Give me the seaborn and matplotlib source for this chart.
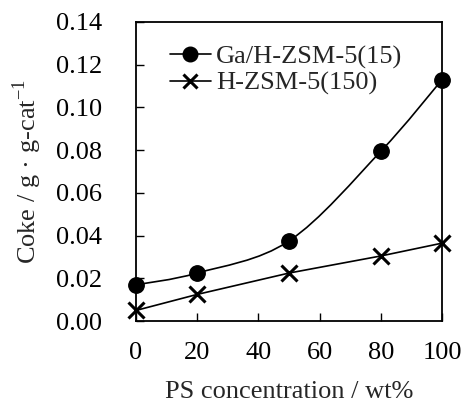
import numpy as np
import matplotlib
matplotlib.use("Agg")
import matplotlib.pyplot as plt
from matplotlib.path import Path
from matplotlib.patches import PathPatch
from matplotlib.lines import Line2D
import seaborn as sns

ps_conc = [0, 20, 50, 80, 100]
coke_ga = [0.017, 0.0225, 0.0375, 0.0795, 0.113]
coke_h = [0.005, 0.0125, 0.0225, 0.0305, 0.0365]
label_ga = "Ga/H-ZSM-5(15)"
label_h = "H-ZSM-5(150)"

sns.set_style("ticks")
plt.rcParams["font.family"] = ["Liberation Serif", "DejaVu Serif"]
plt.rcParams["mathtext.fontset"] = "custom"
plt.rcParams["mathtext.rm"] = "Liberation Serif"
plt.rcParams["font.size"] = 19

fig = plt.figure(figsize=(4.62, 4.05), dpi=100)
ax = fig.add_axes([0.294, 0.207, 0.663, 0.739])

# smoothed curve for the Ga series (bezier through the points, like a spreadsheet smoothed line)
x = np.array(ps_conc, float)
y = np.array(coke_ga, float)
sx, sy = 100.0, 0.14
xn, yn = x / sx, y / sy
verts = [(x[0], y[0])]
codes = [Path.MOVETO]
n = len(x)
for i in range(n - 1):
    p0 = (xn[max(i - 1, 0)], yn[max(i - 1, 0)])
    p1 = (xn[i], yn[i])
    p2 = (xn[i + 1], yn[i + 1])
    p3 = (xn[min(i + 2, n - 1)], yn[min(i + 2, n - 1)])
    c1 = (p1[0] + (p2[0] - p0[0]) / 6, p1[1] + (p2[1] - p0[1]) / 6)
    c2 = (p2[0] - (p3[0] - p1[0]) / 6, p2[1] - (p3[1] - p1[1]) / 6)
    verts += [(c1[0] * sx, c1[1] * sy), (c2[0] * sx, c2[1] * sy), (x[i + 1], y[i + 1])]
    codes += [Path.CURVE4] * 3
ax.add_patch(PathPatch(Path(verts, codes), fill=False, edgecolor="black", lw=1.2, clip_on=False))

sns.scatterplot(x=ps_conc, y=coke_ga, ax=ax, color="black", s=125, marker="o",
                edgecolor="black", clip_on=False, zorder=5)
sns.lineplot(x=ps_conc, y=coke_h, ax=ax, color="black", lw=1.2, marker="x",
             markersize=12, markeredgewidth=2.2, markeredgecolor="black",
             markerfacecolor="black", clip_on=False, zorder=5)

ax.set_xlim(0, 100)
ax.set_ylim(0, 0.14)
ax.set_xticks([0, 20, 40, 60, 80, 100])
yt = np.arange(0, 0.141, 0.02)
ax.set_yticks(yt)
ax.set_yticklabels([f"{v:.2f}" for v in yt])
ax.tick_params(direction="in", length=6, width=1, labelsize=19, colors="black")
ax.tick_params(axis="y", pad=24)
ax.tick_params(axis="x", pad=15)
for sp in ax.spines.values():
    sp.set_visible(True)
    sp.set_linewidth(1.3)
    sp.set_color("black")

ax.set_xlabel("PS concentration / wt%", fontsize=19, labelpad=12)
ax.set_ylabel("Coke / g \u00b7 g-cat$^{\\mathregular{-1}}$", fontsize=19, labelpad=9)

handles = [
    Line2D([], [], color="black", lw=1.2, marker="o", markersize=10.5),
    Line2D([], [], color="black", lw=1.2, marker="x", markersize=10.5, markeredgewidth=2.2),
]
ax.legend(handles, [label_ga, label_h], loc="upper left", frameon=False,
          fontsize=19, handlelength=1.55, handletextpad=0.2, labelspacing=0.1,
          borderaxespad=0.3, bbox_to_anchor=(0.05, 0.985))

fig.savefig("out.png", dpi=100)
